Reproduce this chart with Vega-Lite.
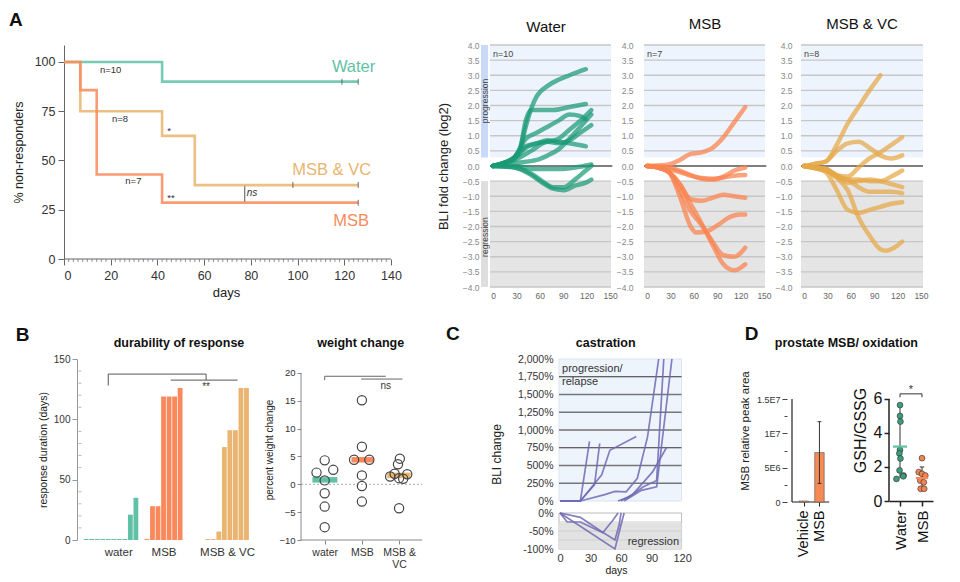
{
"$schema": "https://vega.github.io/schema/vega-lite/v6.json",
"background": "white",
"padding": {"left": 9, "top": 11, "right": 5, "bottom": 5},
"config": {
 "font": "Liberation Sans",
 "view": {"stroke": null},
 "axis": {"grid": false, "labelColor": "#333", "titleColor": "#222", "titleFontWeight": "normal", "domainColor": "#666", "tickColor": "#666", "labelOverlap": false},
 "title": {"color": "#111"}
},
"datasets": {
 "km": [
  {"g":"Water","d":0,"s":100},{"g":"Water","d":42,"s":90},{"g":"Water","d":126,"s":90},
  {"g":"MSB & VC","d":0,"s":100},{"g":"MSB & VC","d":7,"s":75},{"g":"MSB & VC","d":42,"s":62.5},{"g":"MSB & VC","d":56,"s":37.5},{"g":"MSB & VC","d":126,"s":37.5},
  {"g":"MSB","d":0,"s":100},{"g":"MSB","d":7,"s":85.7},{"g":"MSB","d":14,"s":42.9},{"g":"MSB","d":42,"s":28.6},{"g":"MSB","d":126,"s":28.6}
 ],
 "kmminor": [{"d":2},{"d":4},{"d":6},{"d":8},{"d":10},{"d":12},{"d":14},{"d":16},{"d":18},{"d":22},{"d":24},{"d":26},{"d":28},{"d":30},{"d":32},{"d":34},{"d":36},{"d":38},{"d":42},{"d":44},{"d":46},{"d":48},{"d":50},{"d":52},{"d":54},{"d":56},{"d":58},{"d":62},{"d":64},{"d":66},{"d":68},{"d":70},{"d":72},{"d":74},{"d":76},{"d":78},{"d":82},{"d":84},{"d":86},{"d":88},{"d":90},{"d":92},{"d":94},{"d":96},{"d":98},{"d":102},{"d":104},{"d":106},{"d":108},{"d":110},{"d":112},{"d":114},{"d":116},{"d":118},{"d":122},{"d":124},{"d":126},{"d":128},{"d":130},{"d":132},{"d":134},{"d":136},{"d":138}],
 "kmcens": [{"d":119,"s":90},{"d":126,"s":90},{"d":98,"s":37.5},{"d":126,"s":37.5},{"d":126,"s":28.6}],
 "kmann": [{"t":"n=10","d":20,"s":95.8},{"t":"n=8","d":24,"s":71.3},{"t":"n=7","d":29.7,"s":39.5},{"t":"*","d":45,"s":65},{"t":"**","d":45.8,"s":30.8}],
 "kmlab": [{"t":"Water","g":"Water","d":124,"s":97.5},{"t":"MSB & VC","g":"MSB & VC","d":114.6,"s":45},{"t":"MSB","g":"MSB","d":122.9,"s":19.3}],
 "grid": [{"v":-4},{"v":-3.5},{"v":-3},{"v":-2.5},{"v":-2},{"v":-1.5},{"v":-1},{"v":-0.5},{"v":0.5},{"v":1},{"v":1.5},{"v":2},{"v":2.5},{"v":3},{"v":3.5},{"v":4}],
 "bli": [
  {"g":"W","id":1,"d":0,"v":0},{"g":"W","id":1,"d":14,"v":0.1},{"g":"W","id":1,"d":28,"v":0.3},{"g":"W","id":1,"d":35,"v":0.6},{"g":"W","id":1,"d":42,"v":1.3},{"g":"W","id":1,"d":49,"v":1.9},{"g":"W","id":1,"d":56,"v":2.3},{"g":"W","id":1,"d":70,"v":2.65},{"g":"W","id":1,"d":84,"v":2.85},{"g":"W","id":1,"d":98,"v":3.0},{"g":"W","id":1,"d":119,"v":3.2},
  {"g":"W","id":2,"d":0,"v":0},{"g":"W","id":2,"d":14,"v":0.1},{"g":"W","id":2,"d":28,"v":0.3},{"g":"W","id":2,"d":35,"v":0.6},{"g":"W","id":2,"d":42,"v":1.5},{"g":"W","id":2,"d":49,"v":1.85},{"g":"W","id":2,"d":63,"v":1.85},{"g":"W","id":2,"d":77,"v":1.85},{"g":"W","id":2,"d":98,"v":1.95},{"g":"W","id":2,"d":119,"v":2.05},
  {"g":"W","id":3,"d":0,"v":0},{"g":"W","id":3,"d":14,"v":0.1},{"g":"W","id":3,"d":28,"v":0.3},{"g":"W","id":3,"d":42,"v":0.9},{"g":"W","id":3,"d":56,"v":1.1},{"g":"W","id":3,"d":70,"v":1.3},{"g":"W","id":3,"d":84,"v":1.5},{"g":"W","id":3,"d":98,"v":1.7},{"g":"W","id":3,"d":112,"v":1.65},{"g":"W","id":3,"d":119,"v":1.55},
  {"g":"W","id":4,"d":0,"v":0},{"g":"W","id":4,"d":14,"v":0.1},{"g":"W","id":4,"d":28,"v":0.25},{"g":"W","id":4,"d":42,"v":0.6},{"g":"W","id":4,"d":56,"v":0.75},{"g":"W","id":4,"d":70,"v":0.8},{"g":"W","id":4,"d":84,"v":0.9},{"g":"W","id":4,"d":98,"v":1.2},{"g":"W","id":4,"d":112,"v":1.5},{"g":"W","id":4,"d":126,"v":1.85},
  {"g":"W","id":5,"d":0,"v":0},{"g":"W","id":5,"d":14,"v":0.1},{"g":"W","id":5,"d":28,"v":0.2},{"g":"W","id":5,"d":49,"v":0.5},{"g":"W","id":5,"d":70,"v":0.8},{"g":"W","id":5,"d":84,"v":0.75},{"g":"W","id":5,"d":98,"v":0.85},{"g":"W","id":5,"d":112,"v":1.1},{"g":"W","id":5,"d":126,"v":1.35},
  {"g":"W","id":6,"d":0,"v":0},{"g":"W","id":6,"d":14,"v":0.1},{"g":"W","id":6,"d":28,"v":0.3},{"g":"W","id":6,"d":42,"v":0.65},{"g":"W","id":6,"d":56,"v":0.75},{"g":"W","id":6,"d":70,"v":0.85},{"g":"W","id":6,"d":84,"v":0.8},{"g":"W","id":6,"d":98,"v":0.75},{"g":"W","id":6,"d":119,"v":0.65},
  {"g":"W","id":7,"d":0,"v":0},{"g":"W","id":7,"d":14,"v":0.05},{"g":"W","id":7,"d":28,"v":0.1},{"g":"W","id":7,"d":56,"v":0.2},{"g":"W","id":7,"d":70,"v":0.35},{"g":"W","id":7,"d":84,"v":0.55},{"g":"W","id":7,"d":98,"v":0.9},{"g":"W","id":7,"d":112,"v":1.3},{"g":"W","id":7,"d":126,"v":1.7},
  {"g":"W","id":8,"d":0,"v":0},{"g":"W","id":8,"d":14,"v":0},{"g":"W","id":8,"d":28,"v":0},{"g":"W","id":8,"d":56,"v":-0.1},{"g":"W","id":8,"d":84,"v":-0.1},{"g":"W","id":8,"d":105,"v":-0.05},{"g":"W","id":8,"d":126,"v":0.05},
  {"g":"W","id":9,"d":0,"v":0},{"g":"W","id":9,"d":14,"v":-0.02},{"g":"W","id":9,"d":28,"v":-0.05},{"g":"W","id":9,"d":49,"v":-0.3},{"g":"W","id":9,"d":63,"v":-0.55},{"g":"W","id":9,"d":77,"v":-0.75},{"g":"W","id":9,"d":91,"v":-0.8},{"g":"W","id":9,"d":105,"v":-0.65},{"g":"W","id":9,"d":119,"v":-0.55},{"g":"W","id":9,"d":126,"v":-0.45},
  {"g":"W","id":10,"d":0,"v":0},{"g":"W","id":10,"d":14,"v":-0.02},{"g":"W","id":10,"d":28,"v":-0.05},{"g":"W","id":10,"d":49,"v":-0.25},{"g":"W","id":10,"d":63,"v":-0.5},{"g":"W","id":10,"d":77,"v":-0.7},{"g":"W","id":10,"d":91,"v":-0.7},{"g":"W","id":10,"d":105,"v":-0.45},{"g":"W","id":10,"d":119,"v":-0.15},{"g":"W","id":10,"d":126,"v":0},
  {"g":"M","id":11,"d":0,"v":0},{"g":"M","id":11,"d":14,"v":0.02},{"g":"M","id":11,"d":28,"v":0.05},{"g":"M","id":11,"d":42,"v":0.2},{"g":"M","id":11,"d":56,"v":0.4},{"g":"M","id":11,"d":70,"v":0.45},{"g":"M","id":11,"d":84,"v":0.6},{"g":"M","id":11,"d":98,"v":0.95},{"g":"M","id":11,"d":112,"v":1.45},{"g":"M","id":11,"d":126,"v":1.95},
  {"g":"M","id":12,"d":0,"v":0},{"g":"M","id":12,"d":14,"v":-0.02},{"g":"M","id":12,"d":28,"v":-0.05},{"g":"M","id":12,"d":42,"v":-0.15},{"g":"M","id":12,"d":56,"v":-0.3},{"g":"M","id":12,"d":70,"v":-0.42},{"g":"M","id":12,"d":84,"v":-0.45},{"g":"M","id":12,"d":98,"v":-0.35},{"g":"M","id":12,"d":112,"v":-0.15},{"g":"M","id":12,"d":126,"v":-0.05},
  {"g":"M","id":13,"d":0,"v":0},{"g":"M","id":13,"d":14,"v":-0.03},{"g":"M","id":13,"d":28,"v":-0.1},{"g":"M","id":13,"d":42,"v":-0.2},{"g":"M","id":13,"d":56,"v":-0.32},{"g":"M","id":13,"d":70,"v":-0.4},{"g":"M","id":13,"d":84,"v":-0.42},{"g":"M","id":13,"d":98,"v":-0.38},{"g":"M","id":13,"d":112,"v":-0.32},{"g":"M","id":13,"d":126,"v":-0.3},
  {"g":"M","id":14,"d":0,"v":0},{"g":"M","id":14,"d":14,"v":-0.05},{"g":"M","id":14,"d":28,"v":-0.2},{"g":"M","id":14,"d":42,"v":-0.6},{"g":"M","id":14,"d":56,"v":-1.1},{"g":"M","id":14,"d":70,"v":-1.15},{"g":"M","id":14,"d":84,"v":-1.05},{"g":"M","id":14,"d":98,"v":-0.95},{"g":"M","id":14,"d":112,"v":-1.0},{"g":"M","id":14,"d":126,"v":-1.05},
  {"g":"M","id":15,"d":0,"v":0},{"g":"M","id":15,"d":14,"v":-0.05},{"g":"M","id":15,"d":28,"v":-0.2},{"g":"M","id":15,"d":42,"v":-1.0},{"g":"M","id":15,"d":56,"v":-2.0},{"g":"M","id":15,"d":63,"v":-2.2},{"g":"M","id":15,"d":77,"v":-2.15},{"g":"M","id":15,"d":91,"v":-1.95},{"g":"M","id":15,"d":105,"v":-1.7},{"g":"M","id":15,"d":119,"v":-1.6},{"g":"M","id":15,"d":126,"v":-1.6},
  {"g":"M","id":16,"d":0,"v":0},{"g":"M","id":16,"d":14,"v":-0.05},{"g":"M","id":16,"d":28,"v":-0.2},{"g":"M","id":16,"d":42,"v":-0.8},{"g":"M","id":16,"d":56,"v":-1.5},{"g":"M","id":16,"d":70,"v":-1.95},{"g":"M","id":16,"d":84,"v":-2.5},{"g":"M","id":16,"d":98,"v":-2.95},{"g":"M","id":16,"d":112,"v":-3.0},{"g":"M","id":16,"d":126,"v":-2.7},
  {"g":"M","id":17,"d":0,"v":0},{"g":"M","id":17,"d":14,"v":-0.05},{"g":"M","id":17,"d":28,"v":-0.2},{"g":"M","id":17,"d":42,"v":-0.6},{"g":"M","id":17,"d":56,"v":-1.25},{"g":"M","id":17,"d":70,"v":-1.9},{"g":"M","id":17,"d":84,"v":-2.6},{"g":"M","id":17,"d":98,"v":-3.25},{"g":"M","id":17,"d":112,"v":-3.45},{"g":"M","id":17,"d":126,"v":-3.25},
  {"g":"V","id":18,"d":0,"v":0},{"g":"V","id":18,"d":14,"v":0.07},{"g":"V","id":18,"d":28,"v":0.15},{"g":"V","id":18,"d":42,"v":0.7},{"g":"V","id":18,"d":56,"v":1.4},{"g":"V","id":18,"d":70,"v":1.95},{"g":"V","id":18,"d":84,"v":2.5},{"g":"V","id":18,"d":98,"v":3.0},
  {"g":"V","id":19,"d":0,"v":0},{"g":"V","id":19,"d":14,"v":0.07},{"g":"V","id":19,"d":28,"v":0.15},{"g":"V","id":19,"d":42,"v":0.5},{"g":"V","id":19,"d":56,"v":0.75},{"g":"V","id":19,"d":70,"v":0.8},{"g":"V","id":19,"d":84,"v":0.6},{"g":"V","id":19,"d":98,"v":0.35},{"g":"V","id":19,"d":112,"v":0.25},{"g":"V","id":19,"d":126,"v":0.35},
  {"g":"V","id":20,"d":0,"v":0},{"g":"V","id":20,"d":14,"v":-0.05},{"g":"V","id":20,"d":28,"v":-0.1},{"g":"V","id":20,"d":42,"v":-0.3},{"g":"V","id":20,"d":56,"v":-0.35},{"g":"V","id":20,"d":70,"v":-0.05},{"g":"V","id":20,"d":84,"v":0.25},{"g":"V","id":20,"d":98,"v":0.45},{"g":"V","id":20,"d":112,"v":0.7},{"g":"V","id":20,"d":126,"v":0.95},
  {"g":"V","id":21,"d":0,"v":0},{"g":"V","id":21,"d":14,"v":-0.05},{"g":"V","id":21,"d":28,"v":-0.1},{"g":"V","id":21,"d":42,"v":-0.3},{"g":"V","id":21,"d":56,"v":-0.45},{"g":"V","id":21,"d":70,"v":-0.45},{"g":"V","id":21,"d":84,"v":-0.5},{"g":"V","id":21,"d":98,"v":-0.5},{"g":"V","id":21,"d":112,"v":-0.35},{"g":"V","id":21,"d":126,"v":-0.15},
  {"g":"V","id":22,"d":0,"v":0},{"g":"V","id":22,"d":14,"v":-0.05},{"g":"V","id":22,"d":28,"v":-0.1},{"g":"V","id":22,"d":42,"v":-0.35},{"g":"V","id":22,"d":56,"v":-0.55},{"g":"V","id":22,"d":70,"v":-0.5},{"g":"V","id":22,"d":84,"v":-0.45},{"g":"V","id":22,"d":98,"v":-0.5},{"g":"V","id":22,"d":112,"v":-0.6},{"g":"V","id":22,"d":126,"v":-0.7},
  {"g":"V","id":23,"d":0,"v":0},{"g":"V","id":23,"d":14,"v":-0.07},{"g":"V","id":23,"d":28,"v":-0.15},{"g":"V","id":23,"d":42,"v":-0.35},{"g":"V","id":23,"d":56,"v":-0.45},{"g":"V","id":23,"d":70,"v":-0.7},{"g":"V","id":23,"d":84,"v":-0.85},{"g":"V","id":23,"d":98,"v":-0.85},{"g":"V","id":23,"d":112,"v":-0.85},{"g":"V","id":23,"d":126,"v":-0.9},
  {"g":"V","id":24,"d":0,"v":0},{"g":"V","id":24,"d":14,"v":-0.07},{"g":"V","id":24,"d":28,"v":-0.2},{"g":"V","id":24,"d":42,"v":-0.8},{"g":"V","id":24,"d":56,"v":-1.45},{"g":"V","id":24,"d":70,"v":-1.55},{"g":"V","id":24,"d":84,"v":-1.45},{"g":"V","id":24,"d":98,"v":-1.35},{"g":"V","id":24,"d":112,"v":-1.25},{"g":"V","id":24,"d":126,"v":-1.2},
  {"g":"V","id":25,"d":0,"v":0},{"g":"V","id":25,"d":14,"v":-0.07},{"g":"V","id":25,"d":28,"v":-0.15},{"g":"V","id":25,"d":42,"v":-0.4},{"g":"V","id":25,"d":56,"v":-0.8},{"g":"V","id":25,"d":70,"v":-1.7},{"g":"V","id":25,"d":84,"v":-2.3},{"g":"V","id":25,"d":98,"v":-2.75},{"g":"V","id":25,"d":105,"v":-2.8},{"g":"V","id":25,"d":126,"v":-2.5}
 ],
 "dur": [
  {"s":0,"v":0.8,"g":"water"},{"s":1,"v":0.8,"g":"water"},{"s":2,"v":0.8,"g":"water"},{"s":3,"v":0.8,"g":"water"},{"s":4,"v":0.8,"g":"water"},{"s":5,"v":0.8,"g":"water"},{"s":6,"v":0.8,"g":"water"},{"s":7,"v":0.8,"g":"water"},{"s":8,"v":21,"g":"water"},{"s":9,"v":35,"g":"water"},
  {"s":11,"v":0.8,"g":"MSB"},{"s":12,"v":28,"g":"MSB"},{"s":13,"v":28,"g":"MSB"},{"s":14,"v":119,"g":"MSB"},{"s":15,"v":119,"g":"MSB"},{"s":16,"v":119,"g":"MSB"},{"s":17,"v":126,"g":"MSB"},
  {"s":22,"v":0.8,"g":"VC"},{"s":23,"v":0.8,"g":"VC"},{"s":24,"v":7,"g":"VC"},{"s":25,"v":77,"g":"VC"},{"s":26,"v":91,"g":"VC"},{"s":27,"v":91,"g":"VC"},{"s":28,"v":126,"g":"VC"},{"s":29,"v":126,"g":"VC"}
 ],
 "durminor": [{"v":10},{"v":20},{"v":30},{"v":40},{"v":60},{"v":70},{"v":80},{"v":90},{"v":110},{"v":120},{"v":130},{"v":140}],
 "durbr": [{"x":4,"x2":4,"y":128,"y2":137.5},{"x":4,"x2":21.7,"y":137.5,"y2":137.5},{"x":21.7,"x2":21.7,"y":137.5,"y2":132.5},{"x":15.3,"x2":27.4,"y":132.5,"y2":132.5}],
 "wt": [
  {"p":1,"v":4.3,"g":"water"},{"p":0.78,"v":2.1,"g":"water"},{"p":1.23,"v":2.6,"g":"water"},{"p":1,"v":0.7,"g":"water"},{"p":1,"v":-1.6,"g":"water"},{"p":1,"v":-4.0,"g":"water"},{"p":1,"v":-7.7,"g":"water"},
  {"p":2,"v":15.1,"g":"MSB"},{"p":2,"v":6.75,"g":"MSB"},{"p":1.79,"v":4.4,"g":"MSB"},{"p":2.2,"v":4.4,"g":"MSB"},{"p":2,"v":1.6,"g":"MSB"},{"p":2,"v":-0.3,"g":"MSB"},{"p":2,"v":-3.1,"g":"MSB"},
  {"p":3.02,"v":4.6,"g":"VC"},{"p":2.97,"v":3.6,"g":"VC"},{"p":2.76,"v":1.4,"g":"VC"},{"p":2.88,"v":1.9,"g":"VC"},{"p":3.0,"v":1.1,"g":"VC"},{"p":3.11,"v":1.0,"g":"VC"},{"p":3.22,"v":1.8,"g":"VC"},{"p":3.0,"v":-4.3,"g":"VC"}
 ],
 "wtmed": [{"g":"water","lo":0.67,"hi":1.34,"m":0.8},{"g":"MSB","lo":1.72,"hi":2.32,"m":4.4},{"g":"VC","lo":2.68,"hi":3.31,"m":1.6}],
 "wtbr": [{"x":1,"x2":1,"y":18.7,"y2":19.4},{"x":1,"x2":2.64,"y":19.4,"y2":19.4},{"x":1.98,"x2":3.09,"y":18.9,"y2":18.9}],
 "castU": [
  {"id":1,"d":0,"v":0},{"id":1,"d":20,"v":0},{"id":1,"d":29,"v":840},
  {"id":2,"d":0,"v":0},{"id":2,"d":20,"v":0},{"id":2,"d":34,"v":230},{"id":2,"d":39,"v":810},
  {"id":3,"d":0,"v":0},{"id":3,"d":20,"v":0},{"id":3,"d":41,"v":370},{"id":3,"d":49,"v":715},{"id":3,"d":75,"v":910},
  {"id":4,"d":0,"v":0},{"id":4,"d":20,"v":0},{"id":4,"d":44,"v":90},{"id":4,"d":54,"v":135},{"id":4,"d":65,"v":130},{"id":4,"d":76,"v":320},{"id":4,"d":86,"v":900},{"id":4,"d":97,"v":2000},
  {"id":5,"d":57,"v":0},{"id":5,"d":68,"v":60},{"id":5,"d":82,"v":200},{"id":5,"d":95,"v":290},{"id":5,"d":102,"v":2000},
  {"id":6,"d":60,"v":0},{"id":6,"d":72,"v":100},{"id":6,"d":91,"v":410},{"id":6,"d":105,"v":760},
  {"id":7,"d":63,"v":0},{"id":7,"d":80,"v":150},{"id":7,"d":95,"v":200},{"id":7,"d":110,"v":2000}
 ],
 "castL": [
  {"id":8,"d":0,"v":0},{"id":8,"d":7,"v":-25},{"id":8,"d":20,"v":-25},{"id":8,"d":42,"v":-55},{"id":8,"d":52,"v":-20},{"id":8,"d":57,"v":0},
  {"id":9,"d":0,"v":0},{"id":9,"d":20,"v":-12},{"id":9,"d":40,"v":-50},{"id":9,"d":54,"v":-75},{"id":9,"d":58,"v":-35},{"id":9,"d":60,"v":0},
  {"id":10,"d":0,"v":0},{"id":10,"d":54,"v":-100},{"id":10,"d":58,"v":-55},{"id":10,"d":63,"v":0}
 ],
 "d2pts": [
  {"p":1,"v":5.64,"g":"Water"},{"p":1,"v":5.0,"g":"Water"},{"p":1.02,"v":4.67,"g":"Water"},{"p":1,"v":3.0,"g":"Water"},{"p":0.97,"v":2.8,"g":"Water"},{"p":1.02,"v":2.5,"g":"Water"},{"p":0.98,"v":1.8,"g":"Water"},{"p":1.16,"v":1.5,"g":"Water"},{"p":0.84,"v":1.3,"g":"Water"},{"p":1.15,"v":1.45,"g":"Water"},
  {"p":2,"v":2.52,"g":"MSB"},{"p":1.85,"v":1.7,"g":"MSB"},{"p":2,"v":1.6,"g":"MSB"},{"p":2.15,"v":1.5,"g":"MSB"},{"p":1.92,"v":1.2,"g":"MSB"},{"p":2.08,"v":1.1,"g":"MSB"},{"p":1.94,"v":0.72,"g":"MSB"},{"p":2.1,"v":0.72,"g":"MSB"}
 ]
},
"spacing": 25,
"vconcat": [
{
"hconcat": [
 {
  "width": 415, "height": 214,
  "title": {"text": "A", "anchor": "start", "frame": "group", "dx": -55, "offset": 15, "fontSize": 19, "fontWeight": "bold"},
  "layer": [
   {"data": {"values": [{}]}, "mark": {"type": "rule", "color": "#666", "strokeWidth": 1.2},
    "encoding": {
     "x": {"datum": 0, "type": "quantitative", "scale": {"domain": [0, 177.7], "nice": false, "zero": false},
      "axis": {"values": [0,20,40,60,80,100,120,140], "tickCount": 100, "format": "d", "labelOverlap": false, "tickSize": 6, "domain": false, "labelFontSize": 12.5, "labelPadding": 4, "title": "days", "titleFontSize": 13, "titleX": 162, "titlePadding": 5}},
     "x2": {"datum": 140},
     "y": {"datum": 0, "type": "quantitative", "scale": {"domain": [0, 108.6], "nice": false},
      "axis": {"values": [0,25,50,75,100], "tickCount": 100, "format": "d", "labelOverlap": false, "tickSize": 6, "labelFontSize": 12.5, "labelPadding": 3, "title": "% non-responders", "titleFontSize": 12.5, "titlePadding": 9}}
    }},
   {"data": {"name": "kmminor"}, "mark": {"type": "tick", "orient": "vertical", "size": 3, "thickness": 1, "color": "#666", "yOffset": 1.5},
    "encoding": {"x": {"field": "d", "type": "quantitative"}, "y": {"datum": 0}}},
   {"data": {"values": [{}]}, "mark": {"type": "rule", "color": "#555", "strokeWidth": 1},
    "encoding": {"x": {"datum": 77.4}, "y": {"datum": 28.6}, "y2": {"datum": 37.5}}},
   {"data": {"name": "km"}, "mark": {"type": "line", "interpolate": "step-after", "strokeWidth": 2.6, "opacity": 0.85},
    "encoding": {"x": {"field": "d", "type": "quantitative"}, "y": {"field": "s", "type": "quantitative"},
     "color": {"field": "g", "type": "nominal", "scale": {"domain": ["Water","MSB & VC","MSB"], "range": ["#5FC2A6","#E9B570","#F9895C"]}, "legend": null}}},
   {"data": {"name": "kmcens"}, "mark": {"type": "tick", "orient": "vertical", "size": 6, "thickness": 1.2, "color": "#555"},
    "encoding": {"x": {"field": "d", "type": "quantitative"}, "y": {"field": "s", "type": "quantitative"}}},
   {"data": {"name": "kmann"}, "mark": {"type": "text", "fontSize": 9.5, "color": "#333", "align": "center", "baseline": "middle"},
    "encoding": {"x": {"field": "d", "type": "quantitative"}, "y": {"field": "s", "type": "quantitative"}, "text": {"field": "t"}}},
   {"data": {"values": [{"t": "ns"}]}, "mark": {"type": "text", "fontSize": 10, "fontStyle": "italic", "color": "#333", "align": "center", "baseline": "middle"},
    "encoding": {"x": {"datum": 80.5}, "y": {"datum": 33.3}, "text": {"field": "t"}}},
   {"data": {"name": "kmlab"}, "mark": {"type": "text", "fontSize": 16.5, "align": "center", "baseline": "middle"},
    "encoding": {"x": {"field": "d", "type": "quantitative"}, "y": {"field": "s", "type": "quantitative"}, "text": {"field": "t"},
     "color": {"field": "g", "type": "nominal", "legend": null}}}
  ]
 },
 {
  "width": 7, "height": 242,
  "layer": [
   {"data": {"values": [{"a": 0.28, "b": 4}]}, "mark": {"type": "rect", "color": "#C9DAF8"},
    "encoding": {"y": {"field": "a", "type": "quantitative", "scale": {"domain": [-4, 4], "nice": false},
      "axis": {"values": [-4,-3.5,-3,-2.5,-2,-1.5,-1,-0.5,0,0.5,1,1.5,2,2.5,3,3.5,4], "tickCount": 100, "format": ".1f", "labelOverlap": false, "labelFontSize": 8.5, "labelColor": "#888", "domain": false, "ticks": false, "labelPadding": 2,
       "title": "BLI fold change (log2)", "titleFontSize": 13, "titlePadding": 12}},
     "y2": {"field": "b"}}},
   {"data": {"values": [{"a": -0.5, "b": -4}]}, "mark": {"type": "rect", "color": "#DEDEDE"},
    "encoding": {"y": {"field": "a", "type": "quantitative"}, "y2": {"field": "b"}}},
   {"data": {"values": [{"t": "progression", "v": 2.15}, {"t": "regression", "v": -2.35}]}, "mark": {"type": "text", "angle": 270, "fontSize": 8.5, "color": "#444", "align": "center", "baseline": "middle"},
    "encoding": {"y": {"field": "v", "type": "quantitative"}, "text": {"field": "t"}}}
  ]
 },
 {
  "width": 152, "height": 242,
  "title": {"text": "Water", "fontSize": 15, "fontWeight": "normal", "anchor": "middle", "dx": -20, "offset": 9},
  "layer": [
   {"data": {"values": [{"a": 0.28, "b": 4}]}, "mark": {"type": "rect", "color": "#EEF4FD"},
    "encoding": {"x": {"datum": -3.85, "type": "quantitative", "scale": {"domain": [-3.85, 191], "nice": false, "zero": false},
      "axis": {"values": [0,30,60,90,120,150], "tickCount": 100, "format": "d", "labelOverlap": false, "labelFontSize": 8.5, "labelColor": "#666", "domain": false, "ticks": false, "labelPadding": 4, "title": null}},
     "x2": {"datum": 151.3},
     "y": {"field": "a", "type": "quantitative", "scale": {"domain": [-4, 4], "nice": false}, "axis": null}, "y2": {"field": "b"}}},
   {"data": {"values": [{"a": -0.5, "b": -4}]}, "mark": {"type": "rect", "color": "#E5E5E5"},
    "encoding": {"x": {"datum": -3.85}, "x2": {"datum": 151.3}, "y": {"field": "a", "type": "quantitative", "axis": null}, "y2": {"field": "b"}}},
   {"data": {"name": "grid"}, "mark": {"type": "rule", "color": "#C6C6C6", "strokeWidth": 1.3},
    "encoding": {"x": {"datum": -3.85}, "x2": {"datum": 151.3}, "y": {"field": "v", "type": "quantitative", "axis": null}}},
   {"data": {"values": [{}]}, "mark": {"type": "rule", "color": "#555", "strokeWidth": 1.3},
    "encoding": {"x": {"datum": -3.85}, "x2": {"datum": 153}, "y": {"datum": 0, "axis": null}}},
   {"data": {"name": "bli"}, "transform": [{"filter": "datum.g === 'W'"}], "mark": {"type": "line", "interpolate": "monotone", "strokeWidth": 4.5, "opacity": 0.72, "color": "#1B9A76", "strokeCap": "round"},
    "encoding": {"x": {"field": "d", "type": "quantitative"}, "y": {"field": "v", "type": "quantitative", "axis": null}, "detail": {"field": "id"}}},
   {"data": {"values": [{"t": "n=10"}]}, "mark": {"type": "text", "align": "left", "baseline": "middle", "fontSize": 9, "color": "#444"},
    "encoding": {"x": {"datum": 0}, "y": {"datum": 3.7, "axis": null}, "text": {"field": "t"}}}
  ]
 },
 {
  "width": 155, "height": 242,
  "title": {"text": "MSB", "fontSize": 15, "fontWeight": "normal", "anchor": "middle", "dx": -16.5, "offset": 9},
  "layer": [
   {"data": {"values": [{"a": 0.28, "b": 4}]}, "mark": {"type": "rect", "color": "#EEF4FD"},
    "encoding": {"x": {"datum": -3.85, "type": "quantitative", "scale": {"domain": [-3.85, 194.9], "nice": false, "zero": false},
      "axis": {"values": [0,30,60,90,120,150], "tickCount": 100, "format": "d", "labelOverlap": false, "labelFontSize": 8.5, "labelColor": "#666", "domain": false, "ticks": false, "labelPadding": 4, "title": null}},
     "x2": {"datum": 151.3},
     "y": {"field": "a", "type": "quantitative", "scale": {"domain": [-4, 4], "nice": false},
      "axis": {"values": [-4,-3.5,-3,-2.5,-2,-1.5,-1,-0.5,0,0.5,1,1.5,2,2.5,3,3.5,4], "tickCount": 100, "format": ".1f", "labelOverlap": false, "labelFontSize": 8.5, "labelColor": "#888", "domain": false, "ticks": false, "labelPadding": 11, "title": null}},
     "y2": {"field": "b"}}},
   {"data": {"values": [{"a": -0.5, "b": -4}]}, "mark": {"type": "rect", "color": "#E5E5E5"},
    "encoding": {"x": {"datum": -3.85}, "x2": {"datum": 151.3}, "y": {"field": "a", "type": "quantitative"}, "y2": {"field": "b"}}},
   {"data": {"name": "grid"}, "mark": {"type": "rule", "color": "#C6C6C6", "strokeWidth": 1.3},
    "encoding": {"x": {"datum": -3.85}, "x2": {"datum": 151.3}, "y": {"field": "v", "type": "quantitative"}}},
   {"data": {"values": [{}]}, "mark": {"type": "rule", "color": "#555", "strokeWidth": 1.3},
    "encoding": {"x": {"datum": -3.85}, "x2": {"datum": 153}, "y": {"datum": 0}}},
   {"data": {"name": "bli"}, "transform": [{"filter": "datum.g === 'M'"}], "mark": {"type": "line", "interpolate": "monotone", "strokeWidth": 4.5, "opacity": 0.75, "color": "#FA8450", "strokeCap": "round"},
    "encoding": {"x": {"field": "d", "type": "quantitative"}, "y": {"field": "v", "type": "quantitative"}, "detail": {"field": "id"}}},
   {"data": {"values": [{"t": "n=7"}]}, "mark": {"type": "text", "align": "left", "baseline": "middle", "fontSize": 9, "color": "#444"},
    "encoding": {"x": {"datum": 0}, "y": {"datum": 3.7}, "text": {"field": "t"}}}
  ]
 },
 {
  "width": 122, "height": 242,
  "title": {"text": "MSB & VC", "fontSize": 15, "fontWeight": "normal", "anchor": "middle", "dx": 0, "offset": 9},
  "layer": [
   {"data": {"values": [{"a": 0.28, "b": 4}]}, "mark": {"type": "rect", "color": "#EEF4FD"},
    "encoding": {"x": {"datum": -3.85, "type": "quantitative", "scale": {"domain": [-3.85, 152.6], "nice": false, "zero": false},
      "axis": {"values": [0,30,60,90,120,150], "tickCount": 100, "format": "d", "labelOverlap": false, "labelFontSize": 8.5, "labelColor": "#666", "domain": false, "ticks": false, "labelPadding": 4, "title": null}},
     "x2": {"datum": 152.6},
     "y": {"field": "a", "type": "quantitative", "scale": {"domain": [-4, 4], "nice": false},
      "axis": {"values": [-4,-3.5,-3,-2.5,-2,-1.5,-1,-0.5,0,0.5,1,1.5,2,2.5,3,3.5,4], "tickCount": 100, "format": ".1f", "labelOverlap": false, "labelFontSize": 8.5, "labelColor": "#888", "domain": false, "ticks": false, "labelPadding": 9, "title": null}},
     "y2": {"field": "b"}}},
   {"data": {"values": [{"a": -0.5, "b": -4}]}, "mark": {"type": "rect", "color": "#E5E5E5"},
    "encoding": {"x": {"datum": -3.85}, "x2": {"datum": 152.6}, "y": {"field": "a", "type": "quantitative"}, "y2": {"field": "b"}}},
   {"data": {"name": "grid"}, "mark": {"type": "rule", "color": "#C6C6C6", "strokeWidth": 1.3},
    "encoding": {"x": {"datum": -3.85}, "x2": {"datum": 152.6}, "y": {"field": "v", "type": "quantitative"}}},
   {"data": {"values": [{}]}, "mark": {"type": "rule", "color": "#555", "strokeWidth": 1.3},
    "encoding": {"x": {"datum": -3.85}, "x2": {"datum": 152.6}, "y": {"datum": 0}}},
   {"data": {"name": "bli"}, "transform": [{"filter": "datum.g === 'V'"}], "mark": {"type": "line", "interpolate": "monotone", "strokeWidth": 4.5, "opacity": 0.72, "color": "#E6A847", "strokeCap": "round"},
    "encoding": {"x": {"field": "d", "type": "quantitative"}, "y": {"field": "v", "type": "quantitative"}, "detail": {"field": "id"}}},
   {"data": {"values": [{"t": "n=8"}]}, "mark": {"type": "text", "align": "left", "baseline": "middle", "fontSize": 9, "color": "#444"},
    "encoding": {"x": {"datum": 0}, "y": {"datum": 3.7}, "text": {"field": "t"}}}
  ]
 }
],
"spacing": 2,
"bounds": "flush"
},
{
"hconcat": [
 {
  "width": 235, "height": 181,
  "layer": [
   {"data": {"name": "dur"}, "mark": {"type": "bar", "width": 4.8},
    "encoding": {
     "x": {"field": "s", "type": "quantitative", "scale": {"domain": [-3.1, 37.6], "nice": false, "zero": false},
      "axis": {"values": [5.8, 14, 25.5], "tickCount": 100, "labelExpr": "datum.value < 10 ? 'water' : datum.value < 20 ? 'MSB' : 'MSB & VC'", "labelOverlap": false, "domain": false, "ticks": false, "labelFontSize": 11.5, "labelPadding": 6, "title": null}},
     "y": {"field": "v", "type": "quantitative", "scale": {"domain": [0, 150], "nice": false},
      "axis": {"values": [0, 50, 100, 150], "tickCount": 100, "format": "d", "labelOverlap": false, "tickSize": 5,
       "offset": -13, "domainColor": "#999", "tickColor": "#999", "labelFontSize": 10, "title": "response duration (days)", "titleFontSize": 10.5, "titlePadding": 5}},
     "color": {"field": "g", "type": "nominal", "scale": {"domain": ["water","MSB","VC"], "range": ["#5BBF9F","#FC9264","#E9B873"]}, "legend": null}
    }},
   {"data": {"name": "durminor"}, "mark": {"type": "tick", "orient": "horizontal", "size": 3, "thickness": 1, "color": "#999", "xOffset": -1.5},
    "encoding": {"x": {"datum": -0.85}, "y": {"field": "v", "type": "quantitative"}}},
   {"data": {"name": "durbr"}, "mark": {"type": "rule", "color": "#555", "strokeWidth": 1},
    "encoding": {"x": {"field": "x", "type": "quantitative"}, "x2": {"field": "x2"}, "y": {"field": "y", "type": "quantitative"}, "y2": {"field": "y2"}}},
   {"data": {"values": [{"t": "**"}]}, "mark": {"type": "text", "fontSize": 10, "color": "#333", "align": "center", "baseline": "middle"},
    "encoding": {"x": {"datum": 21.7}, "y": {"datum": 126.5}, "text": {"field": "t"}}},
   {"data": {"values": [{"t": "durability of response"}]}, "mark": {"type": "text", "fontSize": 12.5, "fontWeight": "bold", "color": "#111", "align": "center", "baseline": "middle"},
    "encoding": {"x": {"datum": 16.8}, "y": {"datum": 163.3}, "text": {"field": "t"}}},
   {"data": {"values": [{"t": "B"}]}, "mark": {"type": "text", "fontSize": 19, "fontWeight": "bold", "color": "#111", "align": "left", "baseline": "middle"},
    "encoding": {"x": {"datum": -12.75}, "y": {"datum": 170}, "text": {"field": "t"}}}
  ]
 },
 {
  "width": 256, "height": 181,
  "layer": [
   {"data": {"values": [{}]}, "mark": {"type": "rule", "color": "#AAA", "strokeWidth": 1, "strokeDash": [2, 2]},
    "encoding": {
     "x": {"datum": 0.363, "type": "quantitative", "scale": {"domain": [0.363, 7.245], "nice": false, "zero": false},
      "axis": {"values": [1, 2, 3], "tickCount": 100, "labelExpr": "datum.value === 1 ? 'water' : datum.value === 2 ? 'MSB' : ['MSB &', 'VC']", "labelOverlap": false, "domain": false, "tickSize": 4, "tickColor": "#888", "labelFontSize": 10.5, "labelPadding": 3, "title": null}},
     "x2": {"datum": 3.62},
     "y": {"datum": 0, "type": "quantitative", "scale": {"domain": [-10, 22.5], "nice": false},
      "axis": {"values": [-10,-5,0,5,10,15,20], "tickCount": 100, "format": "d", "labelOverlap": false, "domain": false, "tickSize": 4, "tickColor": "#888", "labelFontSize": 9.5, "title": "percent weight change", "titleFontSize": 10, "titlePadding": 4}}
    }},
   {"data": {"values": [{}]}, "mark": {"type": "rule", "color": "#888", "strokeWidth": 1},
    "encoding": {"x": {"datum": 0.363}, "y": {"datum": -10}, "y2": {"datum": 20}}},
   {"data": {"values": [{}]}, "mark": {"type": "rule", "color": "#888", "strokeWidth": 1},
    "encoding": {"x": {"datum": 0.363}, "x2": {"datum": 3.62}, "y": {"datum": -10}}},
   {"data": {"name": "wtbr"}, "mark": {"type": "rule", "color": "#666", "strokeWidth": 1},
    "encoding": {"x": {"field": "x", "type": "quantitative"}, "x2": {"field": "x2"}, "y": {"field": "y", "type": "quantitative"}, "y2": {"field": "y2"}}},
   {"data": {"values": [{"t": "ns"}]}, "mark": {"type": "text", "fontSize": 10, "color": "#333", "align": "center", "baseline": "middle"},
    "encoding": {"x": {"datum": 2.64}, "y": {"datum": 17.6}, "text": {"field": "t"}}},
   {"data": {"name": "wtmed"}, "mark": {"type": "rule", "strokeWidth": 5.5},
    "encoding": {"x": {"field": "lo", "type": "quantitative"}, "x2": {"field": "hi"}, "y": {"field": "m", "type": "quantitative"},
     "color": {"field": "g", "type": "nominal", "scale": {"domain": ["water","MSB","VC"], "range": ["#5BBF9F","#F98B5E","#E9B873"]}, "legend": null}}},
   {"data": {"name": "wt"}, "mark": {"type": "point", "shape": "circle", "filled": false, "size": 85, "strokeWidth": 1.2, "color": "#444", "opacity": 1},
    "encoding": {"x": {"field": "p", "type": "quantitative"}, "y": {"field": "v", "type": "quantitative"}}},
   {"data": {"values": [{"t": "weight change"}]}, "mark": {"type": "text", "fontSize": 12.5, "fontWeight": "bold", "color": "#111", "align": "center", "baseline": "middle"},
    "encoding": {"x": {"datum": 1.968}, "y": {"datum": 25.4}, "text": {"field": "t"}}}
  ]
 },
 {
  "width": 225.5, "height": 190,
  "resolve": {"scale": {"y": "independent"}},
  "layer": [
   {"layer": [
    {"data": {"values": [{}]}, "mark": {"type": "rect", "fill": "#EEF4FC", "stroke": "#DCE4EE", "strokeWidth": 1},
     "encoding": {
      "x": {"datum": -1, "type": "quantitative", "scale": {"domain": [-1, 220.7], "nice": false, "zero": false},
       "axis": {"values": [0, 30, 60, 90, 120], "tickCount": 100, "format": "d", "labelOverlap": false, "domain": false, "ticks": false, "labelFontSize": 11, "labelPadding": 3, "title": "days", "titleFontSize": 10.5, "titleX": 57, "titlePadding": 2}},
      "x2": {"datum": 119.5},
      "y": {"datum": 0, "type": "quantitative", "scale": {"domain": [-676, 2000], "nice": false, "zero": false},
       "axis": {"orient": "left", "values": [0,250,500,750,1000,1250,1500,1750,2000], "tickCount": 100, "labelExpr": "format(datum.value, ',') + '%'", "labelOverlap": false, "domain": false, "ticks": false, "labelFontSize": 10.5, "labelPadding": 6, "title": "BLI change", "titleFontSize": 12, "titlePadding": 14}},
      "y2": {"datum": 2000}}},
    {"data": {"values": [{"v": 1750}, {"v": 1000}, {"v": 750}]}, "mark": {"type": "rule", "color": "#333", "strokeWidth": 1.2},
     "encoding": {"x": {"datum": -1}, "x2": {"datum": 119.5}, "y": {"field": "v", "type": "quantitative"}}},
    {"data": {"values": [{"v": 1500}, {"v": 1250}, {"v": 500}, {"v": 250}]}, "mark": {"type": "rule", "color": "#777", "strokeWidth": 1.4},
     "encoding": {"x": {"datum": -1}, "x2": {"datum": 119.5}, "y": {"field": "v", "type": "quantitative"}}},
    {"data": {"name": "castU"}, "mark": {"type": "line", "strokeWidth": 1.7, "color": "#7068B4", "opacity": 0.85},
     "encoding": {"x": {"field": "d", "type": "quantitative"}, "y": {"field": "v", "type": "quantitative"}, "detail": {"field": "id"}}},
    {"data": {"values": [{"t": "progression/\nrelapse"}]}, "mark": {"type": "text", "lineBreak": "\n", "fontSize": 11, "color": "#333", "align": "left", "baseline": "top", "lineHeight": 13},
     "encoding": {"x": {"datum": 2}, "y": {"datum": 1950}, "text": {"field": "t"}}},
    {"data": {"values": [{"t": "castration"}]}, "mark": {"type": "text", "fontSize": 12.5, "fontWeight": "bold", "color": "#111", "align": "center", "baseline": "middle"},
     "encoding": {"x": {"datum": 44.9}, "y": {"datum": 2225}, "text": {"field": "t"}}},
    {"data": {"values": [{"t": "C"}]}, "mark": {"type": "text", "fontSize": 19, "fontWeight": "bold", "color": "#111", "align": "left", "baseline": "middle"},
     "encoding": {"x": {"datum": -112}, "y": {"datum": 2350}, "text": {"field": "t"}}}
   ]},
   {"layer": [
    {"data": {"values": [{}]}, "mark": {"type": "rect", "fill": "white", "stroke": "#BBBBBB", "strokeWidth": 1},
     "encoding": {"x": {"datum": -1}, "x2": {"datum": 119.5},
      "y": {"datum": 0, "type": "quantitative", "scale": {"domain": [-100, 427.8], "nice": false, "zero": false},
       "axis": {"orient": "left", "values": [0, -50, -100], "tickCount": 100, "labelExpr": "datum.value + '%'", "labelOverlap": false, "domain": false, "ticks": false, "labelFontSize": 10.5, "labelPadding": 6, "title": null}},
      "y2": {"datum": -100}}},
    {"data": {"values": [{}]}, "mark": {"type": "rect", "fill": "#E2E2E2"},
     "encoding": {"x": {"datum": -1}, "x2": {"datum": 119.5}, "y": {"datum": -28}, "y2": {"datum": -100}}},
    {"data": {"values": [{"v": -25}, {"v": -50}, {"v": -75}]}, "mark": {"type": "rule", "color": "#CFCFCF", "strokeWidth": 1},
     "encoding": {"x": {"datum": -1}, "x2": {"datum": 119.5}, "y": {"field": "v", "type": "quantitative"}}},
    {"data": {"name": "castL"}, "mark": {"type": "line", "strokeWidth": 1.7, "color": "#7068B4", "opacity": 0.85},
     "encoding": {"x": {"field": "d", "type": "quantitative"}, "y": {"field": "v", "type": "quantitative"}, "detail": {"field": "id"}}},
    {"data": {"values": [{"t": "regression"}]}, "mark": {"type": "text", "fontSize": 11, "color": "#333", "align": "right", "baseline": "middle"},
     "encoding": {"x": {"datum": 117}, "y": {"datum": -80}, "text": {"field": "t"}}}
   ]}
  ]
 },
 {
  "width": 99.5, "height": 143,
  "layer": [
   {"data": {"values": [{}]}, "mark": {"type": "rule", "color": "#222", "strokeWidth": 1.2},
    "encoding": {
     "x": {"datum": 0.257, "type": "quantitative", "scale": {"domain": [0.257, 5.94], "nice": false, "zero": false},
      "axis": {"values": [1, 2], "tickCount": 100, "labelExpr": "datum.value === 1 ? 'Vehicle' : 'MSB'", "labelOverlap": false, "labelAngle": -90, "labelAlign": "right", "labelBaseline": "middle", "labelFontSize": 14.5, "labelColor": "#111", "domain": false, "tickSize": 4, "tickColor": "#222", "labelPadding": 4, "title": null}},
     "y": {"datum": 0, "type": "quantitative", "scale": {"domain": [0, 20830000], "nice": false},
      "axis": {"values": [0, 2500000, 5000000, 7500000, 10000000, 12500000, 15000000], "tickCount": 100,
       "labelExpr": "datum.value === 0 ? '0' : datum.value === 5000000 ? '5E6' : datum.value === 10000000 ? '1E7' : datum.value === 15000000 ? '1.5E7' : ''", "labelOverlap": false,
       "tickSize": {"condition": {"test": "datum.value % 5000000 === 0", "value": 5}, "value": 3},
       "domain": false, "tickColor": "#444", "labelFontSize": 9, "title": "MSB relative peak area", "titleFontSize": 11.5, "titlePadding": 6}},
     "y2": {"datum": 15000000}}},
   {"data": {"values": [{}]}, "mark": {"type": "rule", "color": "#222", "strokeWidth": 1.2},
    "encoding": {"x": {"datum": 0.257}, "x2": {"datum": 2.62}, "y": {"datum": 0}}},
   {"data": {"values": [{"p": 1, "v": 150000}, {"p": 2, "v": 7200000}]}, "mark": {"type": "bar", "width": 9.5, "color": "#F58A55", "stroke": "#555", "strokeWidth": 0.6},
    "encoding": {"x": {"field": "p", "type": "quantitative"}, "y": {"field": "v", "type": "quantitative"}}},
   {"data": {"values": [{"x": 2, "x2": 2, "y": 2700000, "y2": 11700000}, {"x": 1.88, "x2": 2.12, "y": 11700000, "y2": 11700000}, {"x": 1.88, "x2": 2.12, "y": 2700000, "y2": 2700000}]},
    "mark": {"type": "rule", "color": "#333", "strokeWidth": 1},
    "encoding": {"x": {"field": "x", "type": "quantitative"}, "x2": {"field": "x2"}, "y": {"field": "y", "type": "quantitative"}, "y2": {"field": "y2"}}},
   {"data": {"values": [{"t": "prostate MSB/ oxidation"}]}, "mark": {"type": "text", "fontSize": 12.5, "fontWeight": "bold", "color": "#111", "align": "center", "baseline": "middle"},
    "encoding": {"x": {"datum": 3.71}, "y": {"datum": 23160000}, "text": {"field": "t"}}},
   {"data": {"values": [{"t": "D"}]}, "mark": {"type": "text", "fontSize": 19, "fontWeight": "bold", "color": "#111", "align": "left", "baseline": "middle"},
    "encoding": {"x": {"datum": -2.74}, "y": {"datum": 24470000}, "text": {"field": "t"}}}
  ]
 },
 {
  "width": 44, "height": 142,
  "layer": [
   {"data": {"values": [{}]}, "mark": {"type": "rule", "color": "#222", "strokeWidth": 1.5},
    "encoding": {
     "x": {"datum": 0.5, "type": "quantitative", "scale": {"domain": [0.5, 2.5], "nice": false, "zero": false},
      "axis": {"values": [1, 2], "tickCount": 100, "labelExpr": "datum.value === 1 ? 'Water' : 'MSB'", "labelOverlap": false, "labelAngle": -90, "labelAlign": "right", "labelBaseline": "middle", "labelFontSize": 15, "labelColor": "#111", "domainColor": "#222", "domainWidth": 1.5, "tickSize": 5, "tickColor": "#222", "tickWidth": 1.5, "labelPadding": 4, "title": null}},
     "y": {"datum": 0, "type": "quantitative", "scale": {"domain": [0, 8.35], "nice": false},
      "axis": {"values": [0, 2, 4, 6], "tickCount": 100, "format": "d", "labelOverlap": false, "domain": false, "tickSize": 5, "tickColor": "#222", "tickWidth": 1.5, "labelFontSize": 16, "labelColor": "#111", "title": "GSH/GSSG", "titleFontSize": 16, "titleColor": "#111", "titlePadding": 5}},
     "y2": {"datum": 6}}},
   {"data": {"values": [{"x": 1, "x2": 1, "y": 1.35, "y2": 5.55}, {"x": 2, "x2": 2, "y": 0.72, "y2": 2.0}, {"x": 1.9, "x2": 2.1, "y": 2.0, "y2": 2.0}, {"x": 1, "x2": 1, "y": 6.1, "y2": 6.3}, {"x": 1, "x2": 2, "y": 6.3, "y2": 6.3}, {"x": 2, "x2": 2, "y": 6.3, "y2": 6.1}]},
    "mark": {"type": "rule", "color": "#333", "strokeWidth": 1},
    "encoding": {"x": {"field": "x", "type": "quantitative"}, "x2": {"field": "x2"}, "y": {"field": "y", "type": "quantitative"}, "y2": {"field": "y2"}}},
   {"data": {"name": "d2pts"}, "mark": {"type": "point", "shape": "circle", "filled": true, "size": 34, "stroke": "#2E2E2E", "strokeWidth": 0.6, "opacity": 1},
    "encoding": {"x": {"field": "p", "type": "quantitative"}, "y": {"field": "v", "type": "quantitative"},
     "fill": {"field": "g", "type": "nominal", "scale": {"domain": ["Water", "MSB"], "range": ["#3A9E7E", "#F28452"]}, "legend": null}}},
   {"data": {"values": [{"g": "Water", "lo": 0.68, "hi": 1.32, "m": 3.2}, {"g": "MSB", "lo": 1.72, "hi": 2.28, "m": 1.35}]}, "mark": {"type": "rule", "strokeWidth": 2.2},
    "encoding": {"x": {"field": "lo", "type": "quantitative"}, "x2": {"field": "hi"}, "y": {"field": "m", "type": "quantitative"},
     "color": {"field": "g", "type": "nominal", "scale": {"domain": ["Water", "MSB"], "range": ["#5CC3A5", "#F07F4F"]}, "legend": null}}},
   {"data": {"values": [{"t": "*"}]}, "mark": {"type": "text", "fontSize": 11, "color": "#333", "align": "center", "baseline": "middle"},
    "encoding": {"x": {"datum": 1.5}, "y": {"datum": 6.5}, "text": {"field": "t"}}}
  ]
 }
],
"spacing": 2,
"bounds": "flush"
}
]
}
